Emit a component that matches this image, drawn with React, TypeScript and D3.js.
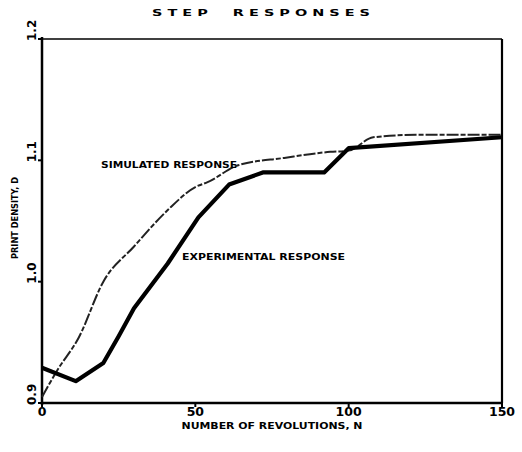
import React from "react";
import * as d3 from "d3";

const title = "S T E P     R E S P O N S E S";
const xTicks = [0, 50, 100, 150];
const yTicks = [0.9, 1.0, 1.1, 1.2];
const yTickLabels = ["0.9", "1.0", "1.1", "1.2"];
const xTitle = "NUMBER OF REVOLUTIONS, N";
const yTitle = "PRINT DENSITY, D";

const simN = [0, 5, 12, 20, 30, 41, 50, 54, 64, 79, 94, 100, 108, 122, 150];
const simD = [0.905, 0.927, 0.954, 1.0, 1.029, 1.059, 1.078, 1.082, 1.096, 1.102, 1.107, 1.108, 1.119, 1.121, 1.121];

const expN = [0, 11, 20, 25, 30, 41, 51, 61, 72, 92, 100, 150];
const expD = [0.929, 0.918, 0.933, 0.955, 0.978, 1.015, 1.053, 1.08, 1.09, 1.09, 1.11, 1.119];

const labelSim = "SIMULATED RESPONSE";
const labelExp = "EXPERIMENTAL RESPONSE";

export default function App() {
  const x = d3.scaleLinear().domain([0, 150]).range([42, 502]);
  const y = d3.scaleLinear().domain([0.9, 1.2]).range([403, 39]);

  const simLine = d3
    .line<number>()
    .x((_, i) => x(simN[i]))
    .y((d) => y(d))
    .curve(d3.curveMonotoneX)(simD);
  const expLine = d3
    .line<number>()
    .x((_, i) => x(expN[i]))
    .y((d) => y(d))
    .curve(d3.curveLinear)(expD);

  const font = "'DejaVu Sans', sans-serif";
  const [x0, x1] = x.range();
  const [yb, yt] = y.range();

  return (
    <svg
      width={522}
      height={452}
      style={{ position: "absolute", left: 0, top: 0, background: "#fff" }}
      fontFamily={font}
    >
      <rect width={522} height={452} fill="#fff" />
      <text
        x={261}
        y={16}
        textAnchor="middle"
        fontSize={9}
        fontWeight="bold"
        textLength={218}
        lengthAdjust="spacingAndGlyphs"
        style={{ whiteSpace: "pre" }}
      >
        {title}
      </text>
      {/* frame */}
      <line x1={x0} y1={yt} x2={x1} y2={yt} stroke="#000" strokeWidth={1.4} />
      <line x1={x1} y1={yt} x2={x1} y2={yb} stroke="#000" strokeWidth={2.2} />
      <line x1={x0} y1={yb} x2={x1} y2={yb} stroke="#000" strokeWidth={2.5} />
      <line x1={x0} y1={yt - 2} x2={x0} y2={yb + 2} stroke="#000" strokeWidth={2.5} />
      {/* x ticks */}
      {xTicks.map((t) => (
        <g key={"x" + t}>
          <line x1={x(t)} y1={yb} x2={x(t)} y2={yb + 4} stroke="#000" strokeWidth={2} />
          <text x={x(t)} y={416} textAnchor="middle" fontSize={12.5} fontWeight="bold">
            {t}
          </text>
        </g>
      ))}
      {/* y ticks */}
      {yTicks.map((t, i) => (
        <g key={"y" + t}>
          <line x1={x0 - 4} y1={y(t)} x2={x0} y2={y(t)} stroke="#000" strokeWidth={2} />
          <text
            transform={`translate(36,${y(t) + 2}) rotate(-90)`}
            textAnchor="start"
            fontSize={12}
            fontWeight="bold"
          >
            {yTickLabels[i]}
          </text>
        </g>
      ))}
      <text x={272} y={429} textAnchor="middle" fontSize={9} fontWeight="bold" textLength={181} lengthAdjust="spacingAndGlyphs">
        {xTitle}
      </text>
      <text
        transform={`translate(18,218) rotate(-90)`}
        textAnchor="middle"
        fontSize={8}
        fontWeight="bold"
        textLength={82}
        lengthAdjust="spacingAndGlyphs"
      >
        {yTitle}
      </text>
      {/* curves */}
      <path d={simLine || ""} fill="none" stroke="#222" strokeWidth={2} strokeDasharray="12 2 5 2" />
      <path d={expLine || ""} fill="none" stroke="#000" strokeWidth={4.2} strokeLinejoin="round" />
      {/* labels */}
      <text x={101} y={168} fontSize={8} fontWeight="bold" textLength={136} lengthAdjust="spacingAndGlyphs">
        {labelSim}
      </text>
      <text x={182} y={260} fontSize={8} fontWeight="bold" textLength={163} lengthAdjust="spacingAndGlyphs">
        {labelExp}
      </text>
    </svg>
  );
}
